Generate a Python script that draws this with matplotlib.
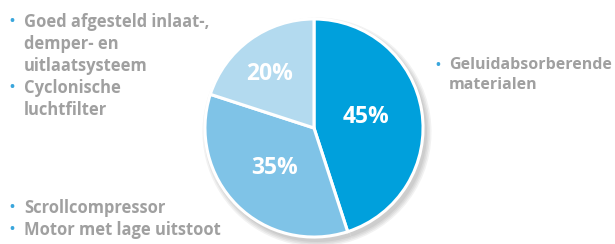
import matplotlib
matplotlib.use("Agg")
import matplotlib.pyplot as plt

values = [45, 35, 20]
pct_labels = ["45%", "35%", "20%"]
colors = ["#00a0dc", "#7fc3e7", "#b3daef"]
explode = [0.045, 0.06, 0.035]

left_top_lines = ["Goed afgesteld inlaat-,", "demper- en", "uitlaatsysteem"]
left_mid_lines = ["Cyclonische", "luchtfilter"]
left_bot_lines = [["Scrollcompressor"], ["Motor met lage uitstoot"]]
right_lines = ["Geluidabsorberende", "materialen"]

W, H = 615, 244
fig = plt.figure(figsize=(W / 100, H / 100), dpi=100)
ax = fig.add_axes([0, 0, 1, 1])

cx, cy, R = 314, 116, 109

# soft shadow
for i, a in enumerate([0.05, 0.05, 0.05, 0.05]):
    ax.pie(values, startangle=90, counterclock=False, explode=explode,
           colors=["#000000"] * 3, radius=R + 1 + i * 1.5,
           center=(cx + 3, cy - 4),
           wedgeprops=dict(linewidth=0, alpha=a))

wedges, _ = ax.pie(values, startangle=90, counterclock=False, explode=explode,
                   colors=colors, radius=R, center=(cx, cy),
                   wedgeprops=dict(edgecolor="white", linewidth=2.2))

ax.set_xlim(0, W)
ax.set_ylim(0, H)
ax.set_aspect("equal")
ax.axis("off")

font = "Open Sans"
pct_pos = [(366, 244 - 117), (275, 244 - 168), (270, 244 - 74)]
for (x, y), t in zip(pct_pos, pct_labels):
    ax.text(x, y, t, color="white", fontsize=16.5, fontweight="bold",
            family=font, ha="center", va="center")

gray = "#a0a0a0"
blue = "#3aa6dc"
fs = 11.9

def block(x_b, x_t, y0, lines, step=22, size=fs):
    ax.text(x_b, y0, "•", color=blue, fontsize=size * 0.8, fontweight="bold",
            family=font, ha="left", va="center")
    for i, ln in enumerate(lines):
        ax.text(x_t, y0 - i * step, ln, color=gray, fontsize=size,
                fontweight="bold", family=font, ha="left", va="center")

block(9, 24, 244 - 22, left_top_lines)
block(9, 24, 244 - 88, left_mid_lines)
block(9, 24, 244 - 208, left_bot_lines[0])
block(9, 24, 244 - 230, left_bot_lines[1])
block(435, 449, 244 - 65, right_lines, step=20, size=11.5)

fig.savefig("out.png", dpi=100)
